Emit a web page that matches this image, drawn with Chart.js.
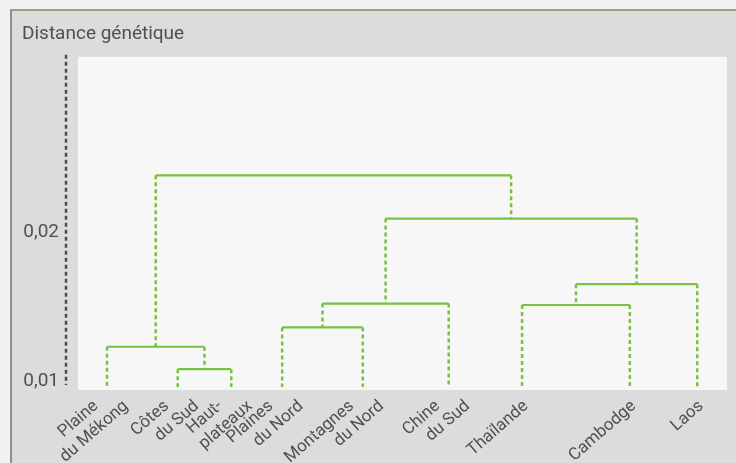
<!DOCTYPE html>
<html>
<head>
<meta charset="utf-8">
<script src="https://cdn.jsdelivr.net/npm/chart.js@4"></script>
<style>
  html, body { margin: 0; padding: 0; background: #f1f1f1; }
  #page { position: relative; width: 736px; height: 463px; overflow: hidden; }
  #frame { position: absolute; left: 10px; top: 9px; right: 0; bottom: 0;
           background: #dcdcdc; border-top: 2px solid #93a57f; border-left: 2px solid #8e8e8e; }
  #wrap { position: absolute; left: 0; top: 0; width: 736px; height: 463px; }
</style>
</head>
<body>
<div id="page">
  <div id="frame"></div>
  <div id="wrap"><canvas id="dendro"></canvas></div>
</div>
<script>
// leaves of the tree, left to right
const leafLabels = [
    ['Plaine', 'du Mékong'],
    ['Côtes', 'du Sud'],
    ['Haut-', 'plateaux'],
    ['Plaines', 'du Nord'],
    ['Montagnes', 'du Nord'],
    ['Chine', 'du Sud'],
    ['Thaïlande'],
    ['Cambodge'],
    ['Laos']
];
const leafPos = [0.62, 1.69, 2.50, 3.27, 4.49, 5.79, 6.90, 8.53, 9.55];
const leafHeight = 0.0096;

// merges: node ids 0-8 are leaves, merge k creates node 9 + k
const mergeLeft   = [1, 0, 3, 11, 6, 13, 12, 10];
const mergeRight  = [2, 9, 4, 5, 7, 8, 14, 15];
const mergeHeight = [0.0108, 0.0123, 0.0136, 0.0152, 0.0151, 0.0165, 0.0209, 0.0238];

const yTicks = [0.01, 0.02];

const green = '#79c143';
const textColor = '#505050';
const fontFamily = 'Roboto, "Liberation Sans", Arial, sans-serif';

// node positions
const nodeX = leafPos.slice();
const nodeY = leafPos.map(() => leafHeight);
mergeHeight.forEach((h, k) => {
    nodeX.push((nodeX[mergeLeft[k]] + nodeX[mergeRight[k]]) / 2);
    nodeY.push(h);
});

const horizontals = [];
const verticals = [];
mergeHeight.forEach((h, k) => {
    const a = mergeLeft[k], b = mergeRight[k];
    horizontals.push({x: nodeX[a], y: h}, {x: nodeX[b], y: h}, {x: nodeX[b], y: null});
    verticals.push({x: nodeX[a], y: h}, {x: nodeX[a], y: nodeY[a]}, {x: nodeX[a], y: null});
    verticals.push({x: nodeX[b], y: h}, {x: nodeX[b], y: nodeY[b]}, {x: nodeX[b], y: null});
});

const plotBackground = {
    id: 'plotBackground',
    beforeDraw(chart) {
        const {ctx, chartArea} = chart;
        ctx.save();
        ctx.fillStyle = '#f7f7f7';
        ctx.fillRect(chartArea.left + 12, chartArea.top, chartArea.right - chartArea.left - 12, chartArea.bottom - chartArea.top);
        ctx.restore();
    },
    // dashed y axis line
    afterDraw(chart) {
        const {ctx, chartArea} = chart;
        ctx.save();
        ctx.strokeStyle = '#4d4d4d';
        ctx.lineWidth = 2.5;
        ctx.setLineDash([4, 3]);
        ctx.beginPath();
        ctx.moveTo(chartArea.left, chartArea.top - 2);
        ctx.lineTo(chartArea.left, chartArea.bottom - 5);
        ctx.stroke();
        ctx.restore();
    }
};

// rotated leaf labels, placed with the x scale; line ends sit on one row
const leafNames = {
    id: 'leafNames',
    afterDraw(chart) {
        const {ctx, chartArea} = chart;
        const xs = chart.scales.x;
        const step = 30;
        ctx.save();
        ctx.font = '17px ' + fontFamily;
        ctx.fillStyle = textColor;
        ctx.textAlign = 'right';
        ctx.textBaseline = 'middle';
        leafLabels.forEach((lines, i) => {
            const px = xs.getPixelForValue(leafPos[i]);
            lines.forEach((l, j) => {
                ctx.save();
                ctx.translate(px + 4 + (j - (lines.length - 1) / 2) * step, chartArea.bottom + 14);
                ctx.rotate(-41 * Math.PI / 180);
                ctx.fillText(l, 0, 0);
                ctx.restore();
            });
        });
        ctx.restore();
    }
};

new Chart(document.getElementById('dendro').getContext('2d'), {
    type: 'line',
    data: {
        datasets: [
            {
                data: horizontals,
                borderColor: green,
                borderWidth: 2.2,
                pointRadius: 0,
                spanGaps: false,
                fill: false
            },
            {
                data: verticals,
                borderColor: green,
                borderWidth: 2.5,
                borderDash: [4, 3],
                pointRadius: 0,
                spanGaps: false,
                fill: false
            }
        ]
    },
    options: {
        responsive: true,
        maintainAspectRatio: false,
        animation: false,
        layout: { padding: { left: 22, right: 9, top: 0, bottom: 0 } },
        plugins: {
            legend: { display: false },
            tooltip: { enabled: false },
            title: {
                display: true,
                text: 'Distance génétique',
                align: 'start',
                color: textColor,
                font: { family: fontFamily, size: 19, weight: 'normal' },
                padding: { top: 23, bottom: 11 }
            }
        },
        scales: {
            x: {
                type: 'linear',
                min: 0,
                max: 10,
                grid: { display: false, drawTicks: false },
                border: { display: false },
                ticks: { display: false },
                afterFit(s) { s.height = 73; }
            },
            y: {
                min: 0.0094,
                max: 0.03175,
                grid: { display: false, drawTicks: false },
                border: { display: false },
                afterBuildTicks(s) { s.ticks = yTicks.map(v => ({value: v})); },
                afterFit(s) { s.width = 44; },
                ticks: {
                    color: textColor,
                    padding: 7,
                    font: { family: fontFamily, size: 19 },
                    callback: v => v.toFixed(2).replace('.', ',')
                }
            }
        }
    },
    plugins: [plotBackground, leafNames]
});
</script>
</body>
</html>
